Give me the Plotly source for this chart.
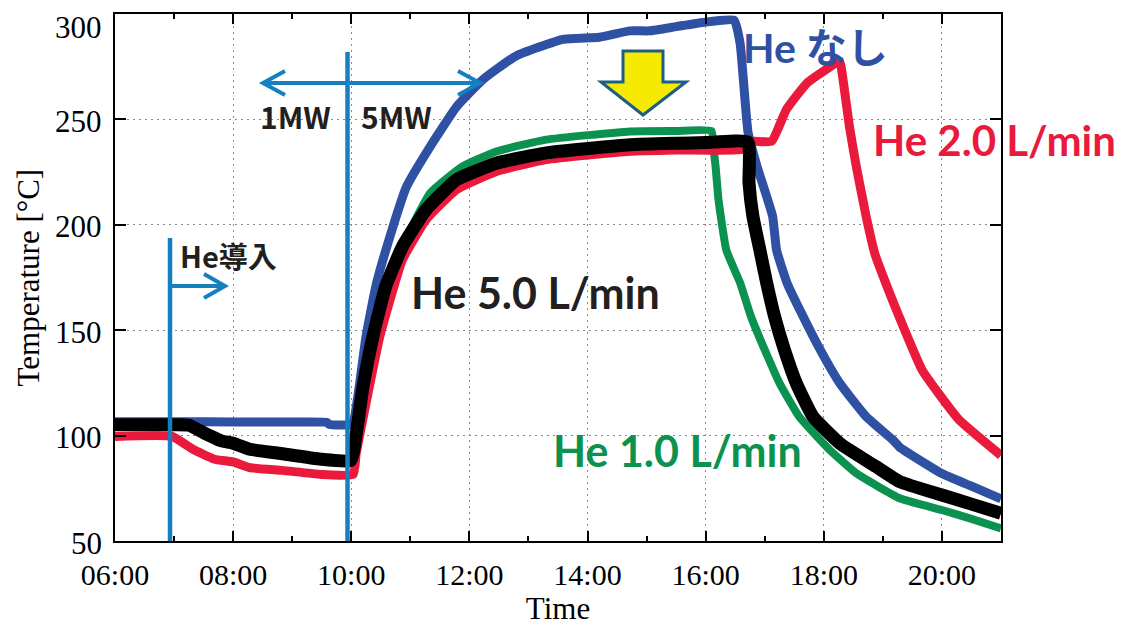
import plotly.graph_objects as go

# ---------------- data ----------------
blue_t = ["06:00","07:00","08:00","09:00","09:35","09:38","10:00","10:03","10:08","10:15",
          "10:25","10:39","10:56","11:20","11:47","12:14","12:47","13:35","14:12","14:43",
          "15:03","15:30","15:57","16:29","16:35","16:40","16:43","16:52","17:08","17:12",
          "17:23","17:39","17:56","18:16","18:43","19:10","19:17","20:00","20:30","21:00"]
blue_v = [106.6,106.6,106.5,106.4,106.3,105.3,105.2,108,123,147,
          171,194,218,237,256,269,280,288,289,292,
          292,294,296,297,286,259,244,228,204,188,
          172,156.5,141,125,109,98,94.5,82,76,70]

black_t = ["06:00","07:00","07:15","07:30","07:48","08:00","08:17","08:47","09:29","09:59",
           "10:02","10:12","10:22","10:35","10:52","11:16","11:47","12:28","13:18","14:43",
           "15:30","16:00","16:43","16:44","16:48","16:55","17:02","17:10","17:20","17:32",
           "17:49","18:16","18:53","19:17","20:00","20:30","21:00"]
black_v = [105.1,105.1,104.9,101.4,97.5,96.4,93.5,91.6,88.8,88,
           91.6,123.3,147,170.8,189.7,207.2,221.4,229.3,234.1,238,
           238.7,239,239.3,220,204,188.2,172.4,156.5,140.7,124.9,
           109,96.4,85.3,78.2,71.8,67.5,63.1]

green_t = ["06:00","07:15","07:30","07:48","08:17","08:47","09:29","09:59","10:04","10:14",
           "10:24","10:37","10:53","11:20","11:53","12:28","13:18","14:43","15:30","16:06",
           "16:08","16:10","16:13","16:21","16:35","16:46","17:00","17:15","17:35","18:06",
           "18:33","19:17","20:00","20:30","21:00"]
green_v = [104.5,104.3,100.8,97,93,91,88.3,87.5,90,123,
           147,171,191,215,227.7,234.9,240.4,244.3,244.5,244.5,
           236,228,212,188,172.4,156.5,140.7,124.9,109,93.2,
           82.1,70.3,64.7,60.5,56]

red_t = ["06:00","06:58","07:19","07:41","08:00","08:17","08:50","09:29","10:02","10:05",
         "10:15","10:29","10:52","11:16","11:47","12:28","13:18","14:43","15:30","16:43",
         "16:45","17:07","17:22","17:43","18:02","18:16","18:20","18:26","18:33","18:43",
         "18:52","19:04","19:16","19:40","20:17","21:00"]
red_v = [99.6,99.6,93.5,88.8,87.5,84.8,83.5,81.6,81.6,91.6,
         115.4,147,183.4,202.4,216.7,225.4,230.9,234.9,235.5,236,
         239.6,239.6,254.7,267.3,273.6,277.6,267.3,246.7,227.7,204,
         186,171,157,131,107.7,90.6]

x_tickvals = [6, 8, 10, 12, 14, 16, 18, 20]
x_ticktext = ["06:00", "08:00", "10:00", "12:00", "14:00", "16:00", "18:00", "20:00"]
y_tickvals = [50, 100, 150, 200, 250, 300]
y_ticktext = ["50", "100", "150", "200", "250", "300"]

series_names = ["He なし", "He 1.0 L/min", "He 2.0 L/min", "He 5.0 L/min"]

# ---------------- geometry ----------------
def hrs(s):
    h, m = s.split(":")
    return int(h) + int(m) / 60.0

BODY = 8                      # default page margin around the plot div
W, H = 1128 - BODY, 626 - BODY
PL, PR, PT, PB = 115, 1001, 14, 541   # plot area on screen
ML, MT = PL - BODY, PT - BODY
MR, MB = W - (PR - BODY), H - (PB - BODY)
X0, X1 = 6.0, 21.0
Y0, Y1 = 50.0, 300.0

def X(px):  # screen pixel -> data x
    return X0 + (px - PL) / (PR - PL) * (X1 - X0)

def Y(py):  # screen pixel -> data y
    return Y0 + (PB - py) / (PB - PT) * (Y1 - Y0)

BLUE = "#2F51A3"
GREEN = "#0B9150"
RED = "#EA1A3C"
BLACK = "#000000"
ANNO = "#1480C0"

def curve(ts, vs, color, width, name):
    return go.Scatter(x=[hrs(t) for t in ts], y=vs, mode="lines", name=name,
                      line=dict(color=color, width=width, shape="spline", smoothing=0.4))

fig = go.Figure()
fig.add_trace(curve(blue_t, blue_v, BLUE, 9, series_names[0]))
fig.add_trace(curve(green_t, green_v, GREEN, 8, series_names[1]))
fig.add_trace(curve(red_t, red_v, RED, 9, series_names[2]))
fig.add_trace(curve(black_t, black_v, BLACK, 13, series_names[3]))

serif = "Liberation Serif, Times New Roman, serif"

fig.update_layout(
    width=W, height=H,
    margin=dict(l=ML, r=MR, t=MT, b=MB),
    paper_bgcolor="white", plot_bgcolor="white",
    showlegend=False,
    xaxis=dict(range=[X0, X1], tickvals=x_tickvals, ticktext=x_ticktext,
               ticks="inside", ticklen=10, tickwidth=1.5, tickcolor="black",
               minor=dict(dtick=1, tick0=6, ticks="inside", ticklen=5, tickcolor="black",
                          showgrid=False),
               showline=True, linecolor="black", linewidth=2, mirror="ticks",
               showgrid=True, gridcolor="#8a8a8a", gridwidth=1, griddash="2px,4px",
               zeroline=False, ticklabelstandoff=6, automargin=False,
               tickfont=dict(family=serif, size=30, color="black"),
               title=dict(text="Time", font=dict(family=serif, size=31, color="black"),
                          standoff=2)),
    yaxis=dict(range=[Y0, Y1], tickvals=y_tickvals, showticklabels=False,
               ticks="inside", ticklen=11, tickwidth=1.5, tickcolor="black",
               showline=True, linecolor="black", linewidth=2, mirror="ticks",
               showgrid=True, gridcolor="#8a8a8a", gridwidth=1, griddash="2px,4px",
               zeroline=False, automargin=False),
)

# y tick labels (slightly below each tick like the reference; top one kept inside)
for v, txt in zip(y_tickvals, y_ticktext):
    top = v == Y1
    fig.add_annotation(x=0, xref="paper", y=v, yref="y", text=txt, showarrow=False,
                       xanchor="right", xshift=-11,
                       yanchor="top" if top else "middle", yshift=6 if top else -2,
                       font=dict(family=serif, size=31, color="black"))
# y axis title
fig.add_annotation(x=0, xref="paper", y=0.5, yref="paper", text="Temperature [°C]",
                   showarrow=False, textangle=-90, xanchor="center", yanchor="middle",
                   xshift=28 - PL, font=dict(family=serif, size=31, color="black"))

# ---------------- annotation lines / arrows ----------------
shapes = []
# He introduction line + arrow
shapes.append(dict(type="line", xref="x", yref="y", x0=X(170), x1=X(170), y0=Y(541), y1=Y(238),
                   line=dict(color=ANNO, width=4.5)))
shapes.append(dict(type="line", xref="x", yref="y", x0=X(170), x1=X(225), y0=Y(286), y1=Y(286),
                   line=dict(color=ANNO, width=4)))
shapes.append(dict(type="path", xref="x", yref="y",
                   path=f"M {X(204)},{Y(274)} L {X(225)},{Y(286)} L {X(204)},{Y(298)}",
                   line=dict(color=ANNO, width=4)))
# 1MW / 5MW boundary line and double arrow
shapes.append(dict(type="line", xref="x", yref="y", x0=X(347.5), x1=X(347.5), y0=Y(541), y1=Y(52),
                   line=dict(color=ANNO, width=4.5)))
shapes.append(dict(type="line", xref="x", yref="y", x0=X(263), x1=X(480), y0=Y(83), y1=Y(83),
                   line=dict(color=ANNO, width=4)))
shapes.append(dict(type="path", xref="x", yref="y",
                   path=f"M {X(285)},{Y(71)} L {X(263)},{Y(83)} L {X(285)},{Y(95)}",
                   line=dict(color=ANNO, width=4)))
shapes.append(dict(type="path", xref="x", yref="y",
                   path=f"M {X(458)},{Y(71)} L {X(480)},{Y(83)} L {X(458)},{Y(95)}",
                   line=dict(color=ANNO, width=4)))
# yellow down arrow
arrow_px = [(623, 51), (663, 51), (663, 82), (686, 82), (643, 115), (601, 82), (623, 82)]
p = "M " + " L ".join(f"{X(a)},{Y(b)}" for a, b in arrow_px) + " Z"
shapes.append(dict(type="path", xref="x", yref="y", path=p,
                   fillcolor="#F6EB00", line=dict(color="#1C5E84", width=3)))
fig.update_layout(shapes=shapes)

# ---------------- text labels ----------------
sans = "Lato, 'Noto Sans CJK JP', sans-serif"
jp = "'Noto Sans CJK JP', sans-serif"
def label(px, py, text, color, size, family=sans):
    fig.add_annotation(x=X(px), y=Y(py), xref="x", yref="y", text=text, showarrow=False,
                       font=dict(family=family, size=size, color=color, weight="bold"),
                       xanchor="center", yanchor="middle")

label(535, 292, "He 5.0 L/min", "#231F20", 43)
label(677, 450, "He 1.0 L/min", GREEN, 43)
label(994, 140, "He 2.0 L/min", RED, 42)
label(815, 47, "He なし", BLUE, 41)
label(295, 116, "1MW", "#231F20", 30, jp)
label(396, 116, "5MW", "#231F20", 30, jp)
label(228, 255, "He導入", "#231F20", 29, jp)

fig.write_html("out.html")
